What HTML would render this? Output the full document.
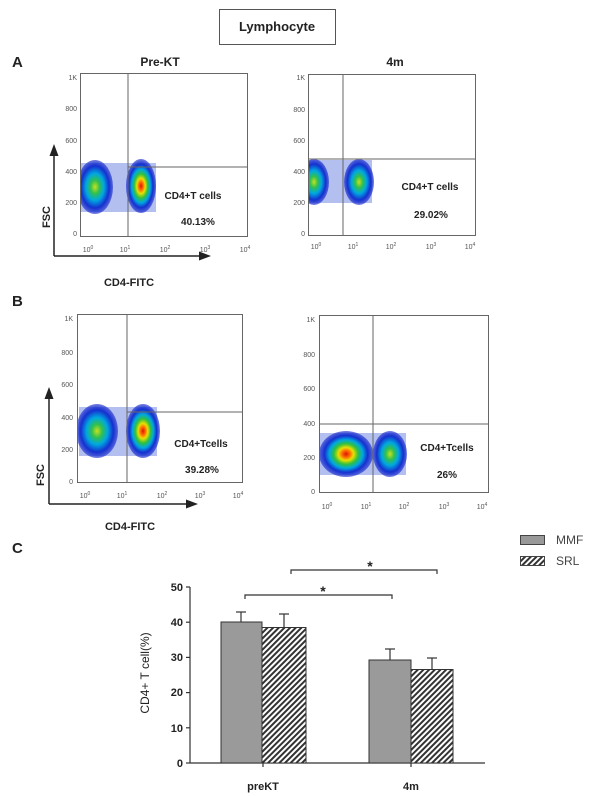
<!DOCTYPE html>
<html><head><meta charset="utf-8"><style>
html,body{margin:0;padding:0;background:#fff;width:600px;height:796px;overflow:hidden}
svg{display:block;font-family:"Liberation Sans",sans-serif}
.t{font-size:7px;fill:#555}
.b{font-weight:bold;fill:#222}
</style></head><body>
<svg width="600" height="796" viewBox="0 0 600 796" xmlns="http://www.w3.org/2000/svg">
<defs>
<radialGradient id="hot">
<stop offset="0" stop-color="#d81800"/><stop offset="0.15" stop-color="#ff6a00"/><stop offset="0.28" stop-color="#e8e000"/><stop offset="0.45" stop-color="#30c040"/><stop offset="0.62" stop-color="#00a8e0"/><stop offset="0.8" stop-color="#1530d0"/><stop offset="1" stop-color="#1a2ccc" stop-opacity="0.6"/>
</radialGradient>
<radialGradient id="cool">
<stop offset="0" stop-color="#c8e020"/><stop offset="0.25" stop-color="#30c050"/><stop offset="0.5" stop-color="#00a8e0"/><stop offset="0.78" stop-color="#1530d0"/><stop offset="1" stop-color="#1a2ccc" stop-opacity="0.6"/>
</radialGradient>
<pattern id="hatch" width="4" height="4" patternUnits="userSpaceOnUse" patternTransform="rotate(45)">
<rect width="4" height="4" fill="#fff"/><rect width="2" height="4" fill="#333"/>
</pattern>
<marker id="ar" markerWidth="8" markerHeight="8" refX="4" refY="4" orient="auto"><path d="M0,1 L8,4 L0,7 z" fill="#222"/></marker>
</defs>

<rect x="219.5" y="9.5" width="116" height="35" fill="#fff" stroke="#555"/>
<text x="277" y="31" text-anchor="middle" font-size="13" class="b">Lymphocyte</text>

<text x="12" y="67" font-size="15" class="b">A</text>
<text x="160" y="66" text-anchor="middle" font-size="12" class="b">Pre-KT</text>
<text x="395" y="66" text-anchor="middle" font-size="12" class="b">4m</text>

<!-- A1 -->
<g>
<rect x="80" y="163" width="76" height="49" fill="#4060d8" opacity="0.4"/>
<ellipse cx="95" cy="187" rx="18" ry="27" fill="url(#cool)"/>
<ellipse cx="141" cy="186" rx="15" ry="27" fill="url(#hot)"/>
<rect x="60" y="150" width="20" height="80" fill="#fff"/>
<rect x="80.5" y="73.5" width="167" height="163" fill="none" stroke="#666"/>
<line x1="128" y1="73" x2="128" y2="237" stroke="#666"/>
<line x1="128" y1="167" x2="248" y2="167" stroke="#666"/>
<g class="t" text-anchor="end"><text x="77" y="80">1K</text><text x="77" y="111">800</text><text x="77" y="143">600</text><text x="77" y="174">400</text><text x="77" y="205">200</text><text x="77" y="236">0</text></g>
<g class="t" text-anchor="middle"><text x="88" y="252">10<tspan dy="-3" font-size="5">0</tspan></text><text x="125" y="252">10<tspan dy="-3" font-size="5">1</tspan></text><text x="165" y="252">10<tspan dy="-3" font-size="5">2</tspan></text><text x="205" y="252">10<tspan dy="-3" font-size="5">3</tspan></text><text x="245" y="252">10<tspan dy="-3" font-size="5">4</tspan></text></g>
<text x="193" y="199" text-anchor="middle" font-size="10" class="b">CD4+T cells</text>
<text x="198" y="225" text-anchor="middle" font-size="10" class="b">40.13%</text>
<line x1="54" y1="256" x2="54" y2="150" stroke="#222" stroke-width="1.5" marker-end="url(#ar)"/>
<line x1="54" y1="256" x2="205" y2="256" stroke="#222" stroke-width="1.5" marker-end="url(#ar)"/>
<text transform="translate(50,217) rotate(-90)" text-anchor="middle" font-size="11" class="b">FSC</text>
<text x="129" y="286" text-anchor="middle" font-size="11" class="b">CD4-FITC</text>
</g>

<!-- A2 -->
<g>
<rect x="308" y="160" width="64" height="43" fill="#4060d8" opacity="0.4"/>
<ellipse cx="314" cy="182" rx="15" ry="23" fill="url(#cool)"/>
<ellipse cx="359" cy="182" rx="15" ry="23" fill="url(#cool)"/>
<rect x="288" y="150" width="20" height="60" fill="#fff"/>
<rect x="308.5" y="74.5" width="167" height="161" fill="none" stroke="#666"/>
<line x1="343" y1="74" x2="343" y2="236" stroke="#666"/>
<line x1="308" y1="159" x2="476" y2="159" stroke="#666"/>
<g class="t" text-anchor="end"><text x="305" y="80">1K</text><text x="305" y="112">800</text><text x="305" y="143">600</text><text x="305" y="174">400</text><text x="305" y="205">200</text><text x="305" y="236">0</text></g>
<g class="t" text-anchor="middle"><text x="316" y="249">10<tspan dy="-3" font-size="5">0</tspan></text><text x="353" y="249">10<tspan dy="-3" font-size="5">1</tspan></text><text x="391" y="249">10<tspan dy="-3" font-size="5">2</tspan></text><text x="431" y="249">10<tspan dy="-3" font-size="5">3</tspan></text><text x="470" y="249">10<tspan dy="-3" font-size="5">4</tspan></text></g>
<text x="430" y="190" text-anchor="middle" font-size="10" class="b">CD4+T cells</text>
<text x="431" y="218" text-anchor="middle" font-size="10" class="b">29.02%</text>
</g>

<text x="12" y="306" font-size="15" class="b">B</text>

<!-- B1 -->
<g>
<rect x="79" y="407" width="78" height="49" fill="#4060d8" opacity="0.4"/>
<ellipse cx="97" cy="431" rx="21" ry="27" fill="url(#cool)"/>
<ellipse cx="143" cy="431" rx="17" ry="27" fill="url(#hot)"/>
<rect x="58" y="395" width="19" height="80" fill="#fff"/>
<rect x="77.5" y="314.5" width="165" height="168" fill="none" stroke="#666"/>
<line x1="127" y1="314" x2="127" y2="483" stroke="#666"/>
<line x1="127" y1="412" x2="243" y2="412" stroke="#666"/>
<g class="t" text-anchor="end"><text x="73" y="321">1K</text><text x="73" y="355">800</text><text x="73" y="387">600</text><text x="73" y="420">400</text><text x="73" y="452">200</text><text x="73" y="484">0</text></g>
<g class="t" text-anchor="middle"><text x="85" y="498">10<tspan dy="-3" font-size="5">0</tspan></text><text x="122" y="498">10<tspan dy="-3" font-size="5">1</tspan></text><text x="162" y="498">10<tspan dy="-3" font-size="5">2</tspan></text><text x="200" y="498">10<tspan dy="-3" font-size="5">3</tspan></text><text x="238" y="498">10<tspan dy="-3" font-size="5">4</tspan></text></g>
<text x="201" y="447" text-anchor="middle" font-size="10" class="b">CD4+Tcells</text>
<text x="202" y="473" text-anchor="middle" font-size="10" class="b">39.28%</text>
<line x1="49" y1="504" x2="49" y2="393" stroke="#222" stroke-width="1.5" marker-end="url(#ar)"/>
<line x1="49" y1="504" x2="192" y2="504" stroke="#222" stroke-width="1.5" marker-end="url(#ar)"/>
<text transform="translate(44,475) rotate(-90)" text-anchor="middle" font-size="11" class="b">FSC</text>
<text x="130" y="530" text-anchor="middle" font-size="11" class="b">CD4-FITC</text>
</g>

<!-- B2 -->
<g>
<rect x="320" y="433" width="86" height="42" fill="#4060d8" opacity="0.4"/>
<ellipse cx="346" cy="454" rx="27" ry="23" fill="url(#hot)"/>
<ellipse cx="390" cy="454" rx="17" ry="23" fill="url(#cool)"/>
<rect x="300" y="425" width="19" height="60" fill="#fff"/>
<rect x="319.5" y="315.5" width="169" height="177" fill="none" stroke="#666"/>
<line x1="373" y1="315" x2="373" y2="493" stroke="#666"/>
<line x1="319" y1="424" x2="489" y2="424" stroke="#666"/>
<g class="t" text-anchor="end"><text x="315" y="322">1K</text><text x="315" y="357">800</text><text x="315" y="391">600</text><text x="315" y="426">400</text><text x="315" y="460">200</text><text x="315" y="494">0</text></g>
<g class="t" text-anchor="middle"><text x="327" y="509">10<tspan dy="-3" font-size="5">0</tspan></text><text x="366" y="509">10<tspan dy="-3" font-size="5">1</tspan></text><text x="404" y="509">10<tspan dy="-3" font-size="5">2</tspan></text><text x="444" y="509">10<tspan dy="-3" font-size="5">3</tspan></text><text x="482" y="509">10<tspan dy="-3" font-size="5">4</tspan></text></g>
<text x="447" y="451" text-anchor="middle" font-size="10" class="b">CD4+Tcells</text>
<text x="447" y="478" text-anchor="middle" font-size="10" class="b">26%</text>
</g>

<!-- C -->
<text x="12" y="553" font-size="15" class="b">C</text>
<rect x="520.5" y="535.5" width="24" height="9" fill="#999" stroke="#444"/>
<text x="556" y="544" font-size="12" fill="#444">MMF</text>
<rect x="520.5" y="556.5" width="24" height="9" fill="url(#hatch)" stroke="#444"/>
<text x="556" y="565" font-size="12" fill="#444">SRL</text>

<g stroke="#333" stroke-width="1.2" fill="none">
<line x1="190" y1="587" x2="190" y2="763"/>
<line x1="190" y1="763" x2="485" y2="763"/>
<line x1="186" y1="587" x2="190" y2="587"/><line x1="186" y1="622.2" x2="190" y2="622.2"/><line x1="186" y1="657.4" x2="190" y2="657.4"/><line x1="186" y1="692.6" x2="190" y2="692.6"/><line x1="186" y1="727.8" x2="190" y2="727.8"/><line x1="186" y1="763" x2="190" y2="763"/>
<line x1="263" y1="763" x2="263" y2="767"/><line x1="411" y1="763" x2="411" y2="767"/>
</g>
<g font-size="11" class="b" text-anchor="end"><text x="183" y="591">50</text><text x="183" y="626">40</text><text x="183" y="661">30</text><text x="183" y="696">20</text><text x="183" y="732">10</text><text x="183" y="767">0</text></g>
<text transform="translate(149,673) rotate(-90)" text-anchor="middle" font-size="12" fill="#222">CD4+ T cell(%)</text>
<g stroke="#333" stroke-width="1.2">
<line x1="241" y1="622" x2="241" y2="612"/><line x1="236" y1="612" x2="246" y2="612"/>
<line x1="284" y1="627" x2="284" y2="614"/><line x1="279" y1="614" x2="289" y2="614"/>
<line x1="390" y1="660" x2="390" y2="649"/><line x1="385" y1="649" x2="395" y2="649"/>
<line x1="432" y1="670" x2="432" y2="658"/><line x1="427" y1="658" x2="437" y2="658"/>
</g>
<rect x="221" y="622" width="41" height="141" fill="#9a9a9a" stroke="#333"/>
<rect x="262" y="627.5" width="44" height="135.5" fill="url(#hatch)" stroke="#333"/>
<rect x="369" y="660" width="42" height="103" fill="#9a9a9a" stroke="#333"/>
<rect x="411" y="669.5" width="42" height="93.5" fill="url(#hatch)" stroke="#333"/>
<g stroke="#333" stroke-width="1.2" fill="none">
<path d="M245,599 V595 H392 V599"/>
<path d="M291,574 V570 H437 V574"/>
</g>
<text x="323" y="596" text-anchor="middle" font-size="14" class="b">*</text>
<text x="370" y="571" text-anchor="middle" font-size="14" class="b">*</text>
<text x="263" y="790" text-anchor="middle" font-size="11" class="b">preKT</text>
<text x="411" y="790" text-anchor="middle" font-size="11" class="b">4m</text>
</svg>
</body></html>
